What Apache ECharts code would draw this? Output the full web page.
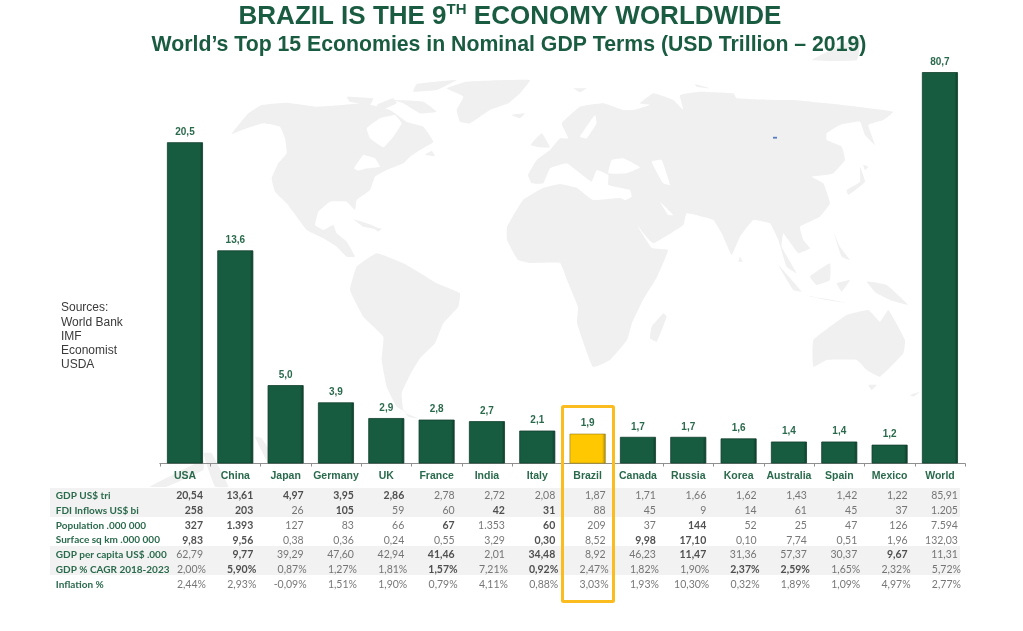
<!DOCTYPE html>
<html><head><meta charset="utf-8">
<style>html,body{margin:0;padding:0;background:#fff}#c{width:1023px;height:631px}</style>
<script src="https://cdn.jsdelivr.net/npm/echarts@6/dist/echarts.min.js"></script>
</head><body><div id="c"></div>
<script>
const categories = ['USA','China','Japan','Germany','UK','France','India','Italy','Brazil','Canada','Russia','Korea','Australia','Spain','Mexico','World'];
const gdpTrillion = [20.5,13.6,5.0,3.9,2.9,2.8,2.7,2.1,1.9,1.7,1.7,1.6,1.4,1.4,1.2,80.7];
const rowNames = ['GDP US$ tri','FDI Inflows US$ bi','Population .000 000','Surface sq km .000 000','GDP per capita US$ .000','GDP % CAGR 2018-2023','Inflation %'];
const gdpRow = ['20,54','13,61','4,97','3,95','2,86','2,78','2,72','2,08','1,87','1,71','1,66','1,62','1,43','1,42','1,22','85,91'];
const fdiRow = ['258','203','26','105','59','60','42','31','88','45','9','14','61','45','37','1.205'];
const popRow = ['327','1.393','127','83','66','67','1.353','60','209','37','144','52','25','47','126','7.594'];
const surfaceRow = ['9,83','9,56','0,38','0,36','0,24','0,55','3,29','0,30','8,52','9,98','17,10','0,10','7,74','0,51','1,96','132,03'];
const perCapitaRow = ['62,79','9,77','39,29','47,60','42,94','41,46','2,01','34,48','8,92','46,23','11,47','31,36','57,37','30,37','9,67','11,31'];
const cagrRow = ['2,00%','5,90%','0,87%','1,27%','1,81%','1,57%','7,21%','0,92%','2,47%','1,82%','1,90%','2,37%','2,59%','1,65%','2,32%','5,72%'];
const inflationRow = ['2,44%','2,93%','-0,09%','1,51%','1,90%','0,79%','4,11%','0,88%','3,03%','1,93%','10,30%','0,32%','1,89%','1,09%','4,97%','2,77%'];
const boldGdp = ['USA','China','Japan','Germany','UK'];
const boldFdi = ['USA','China','Germany','India','Italy'];
const boldPop = ['USA','China','France','Italy','Russia'];
const boldSurface = ['USA','China','Italy','Canada','Russia'];
const boldPerCapita = ['China','France','Italy','Russia','Mexico'];
const boldCagr = ['China','France','Italy','Korea','Australia'];
const boldInflation = [];

const tableRows = [gdpRow,fdiRow,popRow,surfaceRow,perCapitaRow,cagrRow,inflationRow];
const boldRows = [boldGdp,boldFdi,boldPop,boldSurface,boldPerCapita,boldCagr,boldInflation];
const GREEN = '#1a5c41', LABEL = '#2a6a4c';

// Decorative background world map (traced outlines): [originX, originY, points at 3x crop scale]
const land = [
 [190,60,[[125,222],[175,160],[215,135],[290,128],[380,140],[460,135],[520,130],[600,150],[650,185],[700,200],[730,245],[690,270],[660,290],[640,310],[590,330],[555,350],[540,390],[500,420],[495,450],[470,425],[420,425],[385,455],[375,495],[400,510],[430,495],[440,520],[470,545],[495,590],[470,590],[440,560],[400,535],[350,510],[320,470],[290,430],[255,395],[245,355],[265,310],[290,280],[285,235],[270,200],[220,190],[170,205]]],
 [190,60,[[770,85],[830,65],[1020,60],[990,100],[955,130],[900,150],[840,190],[810,185],[800,150],[820,110]]],
 [190,60,[[965,165],[1005,160],[990,175]]],
 [190,60,[[470,110],[550,115],[540,135],[480,125]]],
 [190,60,[[610,120],[700,125],[740,155],[690,160],[640,130]]],
 [190,60,[[680,72],[800,60],[740,90],[670,95]]],
 [190,60,[[560,135],[610,115],[620,130],[575,150]]],
 [190,60,[[1022,255],[1055,220],[1080,262],[1050,262]]],
 [190,60,[[705,285],[725,272],[735,288]]],
 [190,60,[[490,478],[545,495],[575,510],[520,500]]],
 [190,60,[[550,505],[575,505],[565,515]]],
 [280,250,[[230,50],[290,10],[370,40],[430,75],[470,100],[540,130],[535,170],[490,220],[465,280],[420,325],[390,375],[365,430],[370,480],[385,490],[350,470],[320,410],[305,330],[310,260],[250,200],[210,120]]],
 [280,250,[[375,490],[415,505],[385,500]]],
 [0,0,[[1521,681],[1569,600],[1629,564],[1680,552],[1731,564],[1779,600],[1860,594],[1884,606],[1920,690],[1956,744],[2004,750],[1971,831],[1929,900],[1896,969],[1881,1020],[1830,1080],[1779,1101],[1731,969],[1734,921],[1701,840],[1680,789],[1590,789],[1554,780],[1521,720]]],
 [280,250,[[1150,190],[1160,200],[1130,275],[1110,265],[1115,230]]],
 [540,60,[[-36,345],[-10,300],[30,270],[60,235],[85,235],[65,190],[120,140],[190,130],[250,150],[280,150],[330,135],[300,130],[340,100],[400,120],[430,150],[420,105],[480,95],[580,100],[590,115],[700,120],[760,120],[860,130],[950,140],[1060,155],[1030,180],[985,195],[1005,255],[975,225],[960,185],[900,195],[860,220],[860,240],[905,260],[915,300],[880,340],[860,345],[815,350],[850,370],[870,430],[840,470],[780,500],[790,540],[810,565],[775,580],[730,520],[725,560],[770,640],[740,620],[715,540],[690,490],[640,480],[600,530],[575,585],[545,520],[520,480],[440,460],[430,495],[340,550],[310,520],[250,425],[275,410],[270,390],[205,375],[205,345],[170,330],[155,365],[120,340],[80,310],[30,325],[10,370],[-25,370]]],
 [540,60,[[960,320],[975,365],[925,405],[920,390],[960,365]]],
 [540,60,[[970,315],[985,320],[975,330]]],
 [540,60,[[880,515],[900,560],[930,600],[905,590]]],
 [540,60,[[600,590],[608,605],[595,605]]],
 [540,60,[[100,85],[140,85],[120,97]]],
 [540,60,[[465,72],[510,85],[470,80]]],
 [660,250,[[355,45],[425,125],[400,120]]],
 [660,250,[[450,80],[510,40],[510,90],[470,105]]],
 [660,250,[[430,135],[570,160],[500,150]]],
 [660,250,[[620,95],[680,105],[745,165],[690,150],[650,130]]],
 [660,250,[[530,100],[570,90],[545,125]]],
 [660,250,[[460,270],[560,195],[625,180],[660,215],[685,180],[735,270],[730,310],[660,380],[620,360],[590,330],[500,330],[460,350]]],
 [660,250,[[625,405],[650,405],[635,420]]],
 [660,250,[[750,435],[780,425],[760,440]]],
 // faint watermark fragments
 [140,370,[[30,350],[190,270],[190,300],[80,350]]],
 [140,370,[[190,250],[215,250],[265,350],[225,350]]],
 [140,370,[[345,200],[365,205],[410,280],[385,280]]],
 [0,0,[[2436,180],[2580,111],[2571,180]]]
];
const water = [
 [190,60,[[530,205],[570,175],[615,165],[635,190],[610,230],[580,262],[540,235]]],
 [190,60,[[492,325],[520,285],[555,295],[570,320],[530,325],[505,332]]],
 [540,60,[[215,300],[250,295],[300,322],[260,340],[205,340]]],
 [540,60,[[335,305],[365,300],[390,375],[370,370]]],
 [540,60,[[360,425],[400,465],[385,465]]],
 [540,60,[[120,230],[165,165],[170,190],[140,235]]]
];
const toPts = s => s[2].map(p => [s[0] + p[0]/3, s[1] + p[1]/3]);
const mapEls = land.map(s => ({type:'polygon',silent:true,z:-3,shape:{points:toPts(s),smooth:0.1},style:{fill:'#f0f0f0'}}))
  .concat(water.map(s => ({type:'polygon',silent:true,z:-2,shape:{points:toPts(s),smooth:0.1},style:{fill:'#ffffff'}})));

const barColor = (main, edge) => ({type:'linear',x:0,y:0,x2:1,y2:0,colorStops:[{offset:0,color:main},{offset:0.9,color:main},{offset:1,color:edge}]});

const cells = [];
tableRows.forEach((row,r) => row.forEach((v,c) => {
  const bold = boldRows[r].includes(categories[c]);
  const pct = v.endsWith('%');
  cells.push({value:[c,r],label:{formatter:v,fontWeight:bold?'bold':'normal',color:bold?'#262626':'#555555',offset:[pct?21:18,0]}});
}));

const chart = echarts.init(document.getElementById('c'),null,{renderer:'canvas'});
chart.setOption({
  animation:false,
  backgroundColor:'#fff',
  title:[
    {left:505,textAlign:'center',top:-3,text:'{a|BRAZIL IS THE 9}{b|TH}{a| ECONOMY WORLDWIDE}',
     textStyle:{rich:{a:{fontFamily:'Liberation Sans',fontWeight:'bold',fontSize:26,color:GREEN,lineHeight:30},
                      b:{fontFamily:'Liberation Sans',fontWeight:'bold',fontSize:15,color:GREEN,verticalAlign:'top',lineHeight:30}}}},
    {left:504,textAlign:'center',top:30,text:'World’s Top 15 Economies in Nominal GDP Terms (USD Trillion – 2019)',
     textStyle:{fontFamily:'Liberation Sans',fontWeight:'bold',fontSize:21.25,color:GREEN}}
  ],
  grid:[
    {left:159.8,width:805.3,top:72.5,height:391},
    {left:159.8,width:805.3,top:488.6,height:103.1}
  ],
  xAxis:[
    {type:'category',gridIndex:0,data:categories,
     axisLine:{lineStyle:{color:'#8f8f8f',width:1}},
     axisTick:{show:true,length:3,lineStyle:{color:'#8f8f8f'}},
     axisLabel:{interval:0,margin:7,fontFamily:'Liberation Sans',fontWeight:'bold',fontSize:10.5,color:LABEL}},
    {type:'category',gridIndex:1,data:categories,show:false}
  ],
  yAxis:[
    {type:'value',gridIndex:0,min:0,max:24.95,show:false},
    {type:'category',gridIndex:1,data:rowNames,inverse:true,
     axisLine:{show:false},axisTick:{show:false},
     axisLabel:{interval:0,align:'left',margin:104,fontFamily:'Lato',fontWeight:'bold',fontSize:10,color:LABEL}}
  ],
  series:[
    {type:'bar',xAxisIndex:0,yAxisIndex:0,barWidth:36,clip:true,z:3,
     data:gdpTrillion.map((v,i)=>({value:v,itemStyle:categories[i]==='Brazil'
        ?{color:barColor('#ffc800','#a98a12'),borderColor:'#8f7a1c',borderWidth:0.6}
        :{color:barColor('#175c41','#0d3b29'),borderColor:'#123f2d',borderWidth:0.8}})),
     label:{show:true,position:'top',distance:5,fontFamily:'Liberation Sans',fontWeight:'bold',fontSize:10,color:LABEL,
            formatter:p=>p.value.toFixed(1).replace('.',',')}},
    {type:'scatter',xAxisIndex:1,yAxisIndex:1,symbolSize:1,itemStyle:{color:'rgba(0,0,0,0)'},silent:true,z:4,
     data:cells,
     label:{show:true,position:'inside',align:'right',verticalAlign:'middle',fontFamily:'Lato',fontSize:10.5}}
  ],
  graphic:{elements:mapEls.concat([
    {type:'rect',silent:true,z:-1,shape:{x:50,y:488,width:910,height:29},style:{fill:'#f2f2f2'}},
    {type:'rect',silent:true,z:-1,shape:{x:50,y:546,width:910,height:29},style:{fill:'#f2f2f2'}},
    {type:'rect',silent:true,z:-1,shape:{x:773,y:136.8,width:4,height:1.8},style:{fill:'#5a7cc4'}},
    {type:'rect',silent:true,z:10,shape:{x:562.5,y:406.5,width:51,height:195,r:1},style:{fill:'none',stroke:'#fbbc1f',lineWidth:3}},
    {type:'text',silent:true,z:10,x:61,y:301,style:{text:'Sources:\nWorld Bank\nIMF\nEconomist\nUSDA',fontFamily:'Liberation Sans',fontSize:12,lineHeight:14.2,fill:'#3a3a3a'}}
  ])}
});
</script></body></html>
